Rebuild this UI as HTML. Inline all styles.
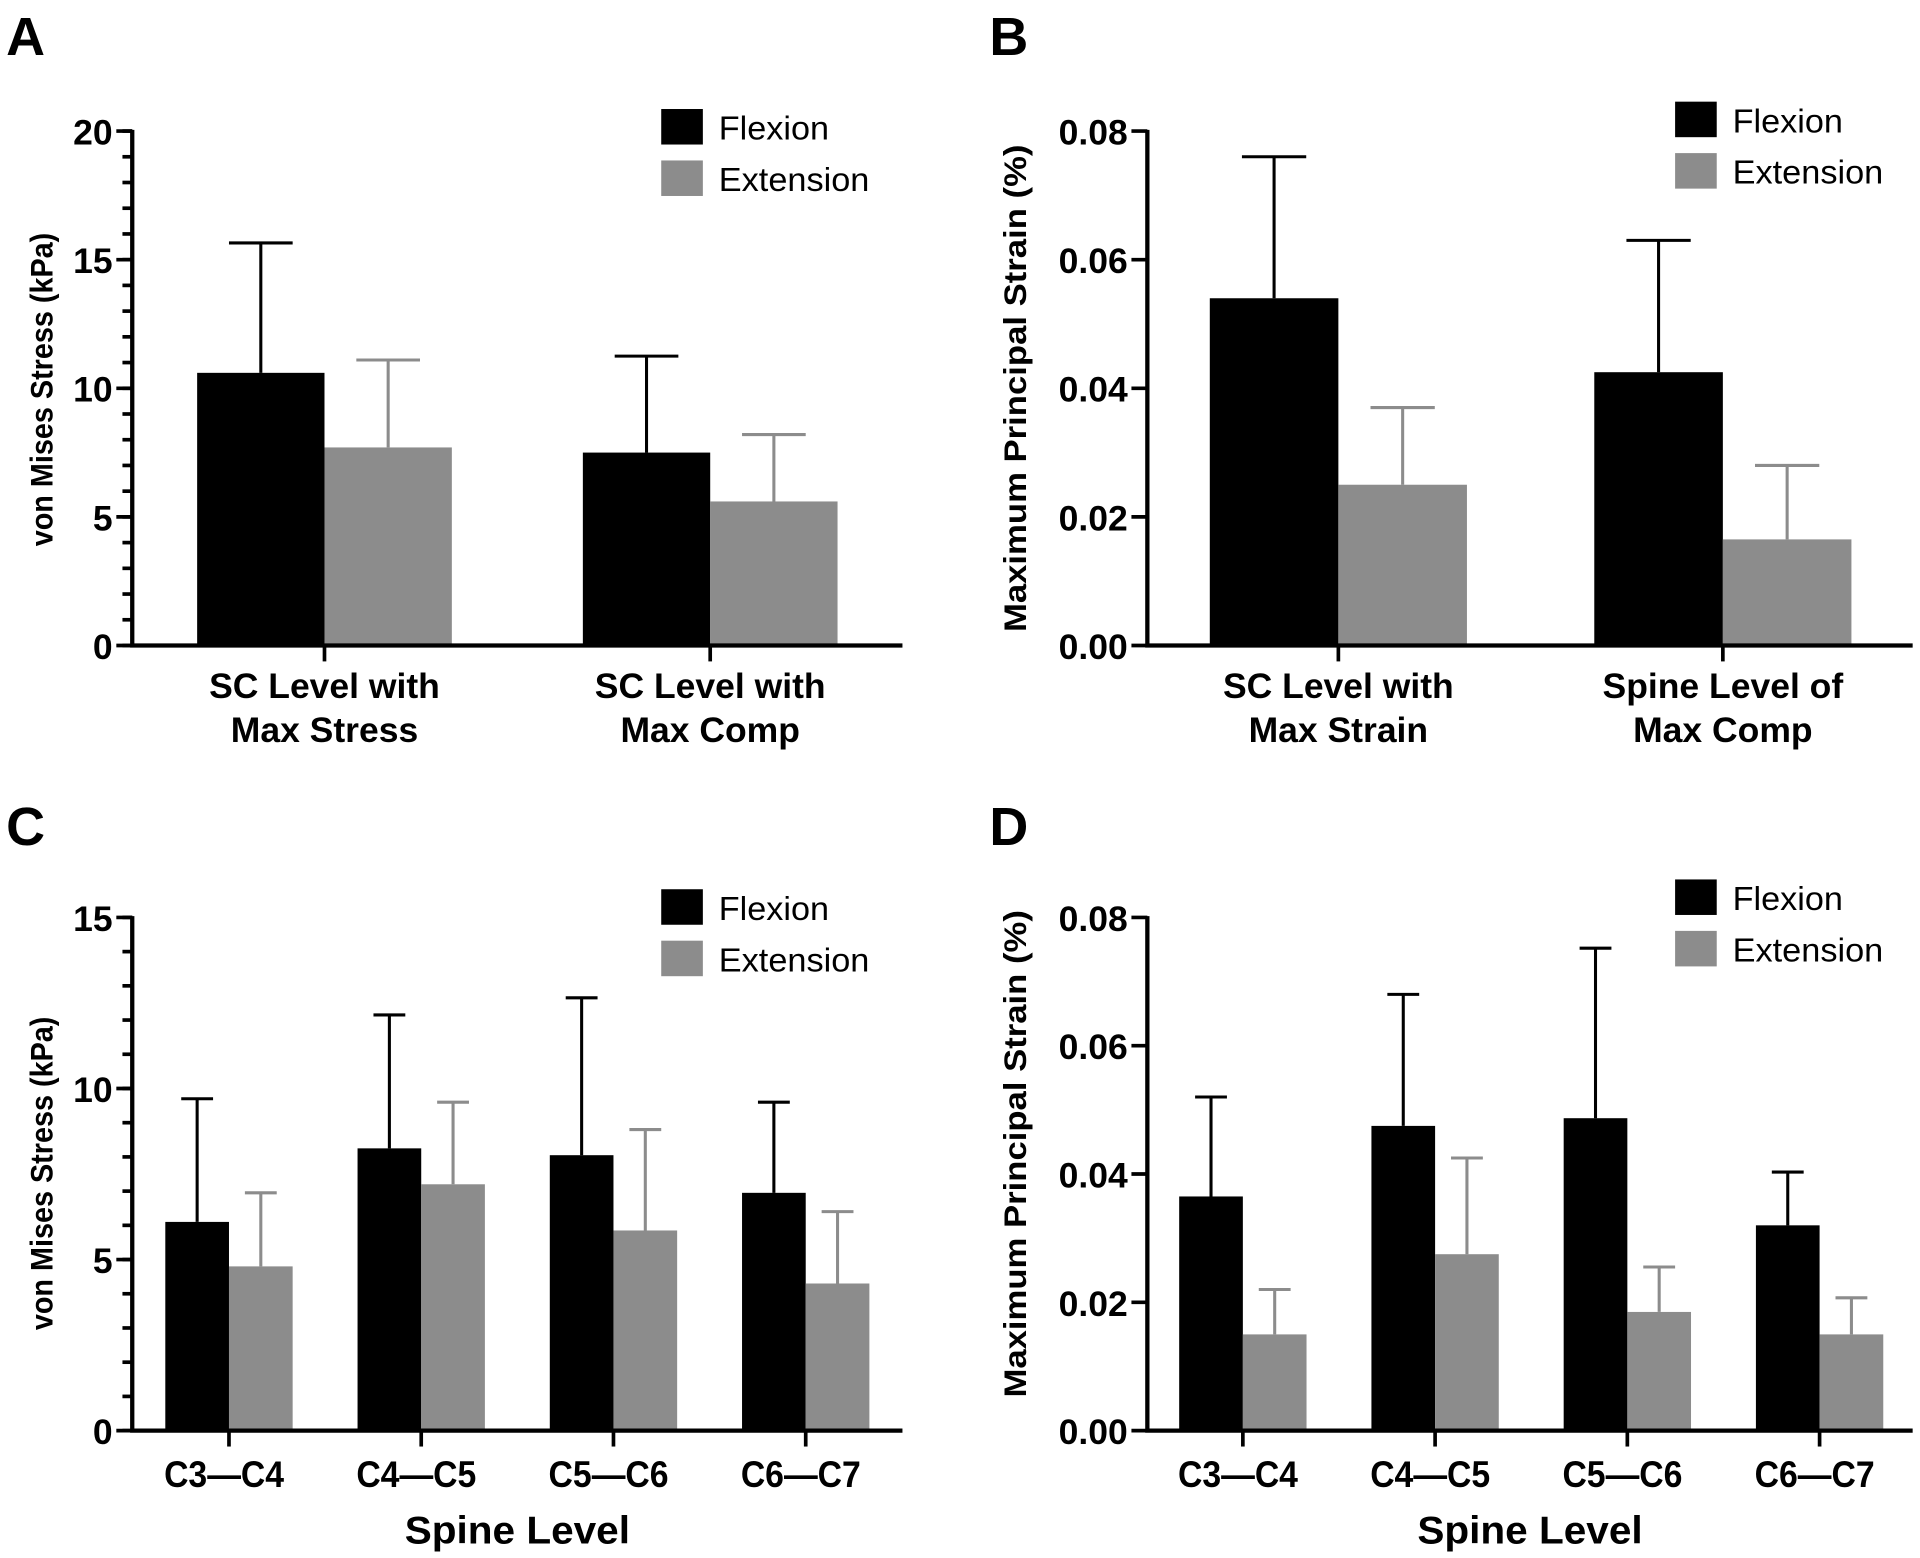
<!DOCTYPE html>
<html><head><meta charset="utf-8"><style>
html,body{margin:0;padding:0;background:#fff}
svg{display:block}
text{font-family:"Liberation Sans",Arial,sans-serif}
</style></head><body>
<svg id="fig" width="1920" height="1558" viewBox="0 0 1568 1272" preserveAspectRatio="none" xmlns="http://www.w3.org/2000/svg"></svg>
<script>
// Panel A data
const catsA = [["SC Level with","Max Stress"],["SC Level with","Max Comp"]];
const flexA = [10.6, 7.5];
const flexErrA = [15.65, 11.25];
const extA = [7.7, 5.6];
const extErrA = [11.1, 8.2];
const ticksA = ["0","5","10","15","20"];
// Panel B data
const catsB = [["SC Level with","Max Strain"],["Spine Level of","Max Comp"]];
const flexB = [0.054, 0.0425];
const flexErrB = [0.076, 0.063];
const extB = [0.025, 0.0165];
const extErrB = [0.037, 0.028];
const ticksB = ["0.00","0.02","0.04","0.06","0.08"];
// Panel C data
const catsC = [["C3\u2014C4"],["C4\u2014C5"],["C5\u2014C6"],["C6\u2014C7"]];
const flexC = [6.1, 8.25, 8.05, 6.95];
const flexErrC = [9.7, 12.15, 12.65, 9.6];
const extC = [4.8, 7.2, 5.85, 4.3];
const extErrC = [6.95, 9.6, 8.8, 6.4];
const ticksC = ["0","5","10","15"];
// Panel D data
const catsD = [["C3\u2014C4"],["C4\u2014C5"],["C5\u2014C6"],["C6\u2014C7"]];
const flexD = [0.0365, 0.0475, 0.0487, 0.032];
const flexErrD = [0.052, 0.068, 0.0752, 0.0403];
const extD = [0.015, 0.0275, 0.0185, 0.015];
const extErrD = [0.022, 0.0425, 0.0255, 0.0207];
const ticksD = ["0.00","0.02","0.04","0.06","0.08"];

const NS="http://www.w3.org/2000/svg";
const svg=document.getElementById('fig');
function mk(tag,attrs,parent){const e=document.createElementNS(NS,tag);for(const k in attrs)e.setAttribute(k,attrs[k]);(parent||svg).appendChild(e);return e;}

function panel(o){
  const g=mk('g',{});
  
  
  const y=v=>o.y0-(v/o.max)*(o.y0-o.y1);
  const L=mk('text',{x:o.lx,y:o.ly,'font-size':44,'font-weight':'bold'},g);L.textContent=o.id.toUpperCase();
  
  
  const n=o.flex.length;
  for(let i=0;i<n;i++){
    const c=o.c0+i*o.gap, w=o.bw;
    [[o.flex,o.ferr,'#000',c-w],[o.ext,o.eerr,'#8c8c8c',c]].forEach(([vals,errs,col,x0],k)=>{
      const top=y(vals[i]), et=y(errs[i]), cx=x0+w/2;
      const r=mk('rect',{x:x0,y:top,width:w,height:o.y0-top,fill:col},g);
      
      
      const e=mk('path',{d:`M${cx},${top}V${et}M${cx-w/4},${et}H${cx+w/4}`,stroke:col,'stroke-width':2.5,fill:'none'},g);
      
      
    });
    mk('path',{d:`M${c},${o.y0}v13`,stroke:'#000','stroke-width':3},g);
    o.cats[i].forEach((s,j)=>{
      const multi=o.cats[i].length>1;
      const attrs={x:multi?c:c-4,y:o.catY+j*36,'font-size':multi?29:30,'font-weight':'bold','text-anchor':'middle'};
      if(!multi){attrs.textLength=98;attrs.lengthAdjust='spacingAndGlyphs';}
      const tx=mk('text',attrs,g);
      tx.textContent=s;
      
      
    });
  }
  const ax=mk('path',{d:`M${o.ax},${o.y1-1}V${o.y0}H${o.xend}`,stroke:'#000','stroke-width':3.5,fill:'none'},g);
  
  
  const nt=o.ticks.length-1;
  o.ticks.forEach((s,i)=>{
    const v=o.max*i/nt, yy=y(v);
    mk('path',{d:`M${o.ax-13},${yy}H${o.ax}`,stroke:'#000','stroke-width':3},g);
    const t=mk('text',{x:o.ax-16,y:yy+11,'font-size':29,'font-weight':'bold','text-anchor':'end'},g);
    t.textContent=s;
    
    
  });
  if(o.minor){for(let v=0;v<=o.max;v+=o.minor){mk('path',{d:`M${o.ax-8},${y(v)}H${o.ax}`,stroke:'#000','stroke-width':3},g);}}
  const cy=o.ytc;
  const yt=mk('text',{x:o.ytx,y:cy,'font-size':26,'font-weight':'bold','text-anchor':'middle',textLength:o.ytl,lengthAdjust:'spacingAndGlyphs',transform:`rotate(-90 ${o.ytx} ${cy})`},g);
  yt.textContent=o.ytitle;
  
  
  if(o.xtitle){const xt=mk('text',{x:(o.ax+o.xend)/2,y:o.y0+92,'font-size':32,'font-weight':'bold','text-anchor':'middle',textLength:184,lengthAdjust:'spacingAndGlyphs'},g);xt.textContent=o.xtitle;
    
    }
  [['Flexion','#000',0,90],['Extension','#8c8c8c',1,123]].forEach(([s,col,k,tl])=>{
    const r=mk('rect',{x:o.legx,y:o.legy+k*42,width:34,height:29,fill:col},g);
    
    
    const t=mk('text',{x:o.legx+47,y:o.legy+k*42+25,'font-size':27,textLength:tl,lengthAdjust:'spacingAndGlyphs'},g);t.textContent=s;
    
    
  });
}
panel({id:'a',lx:5,ly:45,flex:flexA,ferr:flexErrA,ext:extA,eerr:extErrA,cats:catsA,ticks:ticksA,max:20,minor:1,
  y0:527,y1:107,ax:108,xend:737,c0:265,gap:315,bw:104,catY:570,ytitle:'von Mises Stress (kPa)',ytx:43,ytc:318,ytl:256,legx:540,legy:89});
panel({id:'b',lx:808,ly:45,flex:flexB,ferr:flexErrB,ext:extB,eerr:extErrB,cats:catsB,ticks:ticksB,max:0.08,
  y0:527,y1:107,ax:937,xend:1562,c0:1093,gap:314,bw:105,catY:570,ytitle:'Maximum Principal Strain (%)',ytx:838,ytc:317,ytl:398,legx:1368,legy:83});
panel({id:'c',lx:5,ly:690,flex:flexC,ferr:flexErrC,ext:extC,eerr:extErrC,cats:catsC,ticks:ticksC,max:15,minor:1,
  y0:1168,y1:749,ax:108,xend:737,c0:187,gap:157,bw:52,catY:1214,ytitle:'von Mises Stress (kPa)',ytx:43,ytc:958,ytl:256,xtitle:'Spine Level',legx:540,legy:726});
panel({id:'d',lx:808,ly:690,flex:flexD,ferr:flexErrD,ext:extD,eerr:extErrD,cats:catsD,ticks:ticksD,max:0.08,
  y0:1168,y1:749,ax:937,xend:1562,c0:1015,gap:157,bw:52,catY:1214,ytitle:'Maximum Principal Strain (%)',ytx:838,ytc:942,ytl:398,xtitle:'Spine Level',legx:1368,legy:718});
</script>
</body></html>
